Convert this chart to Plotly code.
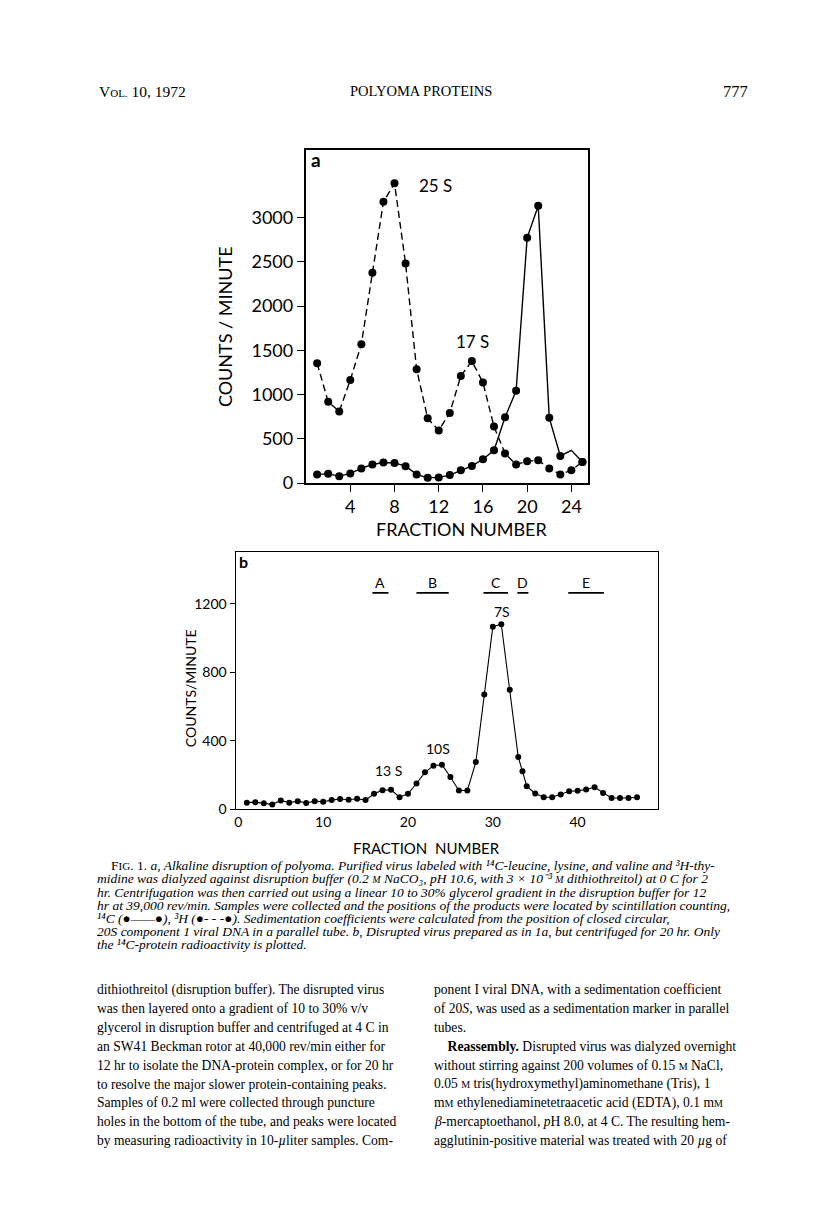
import plotly.graph_objects as go

W, H = 816, 1214

# --- panel a: 14C (solid) and 3H (dashed) ---
frac_a = list(range(1, 26))
h3_counts = [1353, 919, 810, 1166, 1569, 2377, 3180, 3389, 2481, 1286, 732, 594, 793,
             1211, 1379, 1136, 639, 333, 210, 247, 258, 165, 98, 146, 239]
c14_counts = [98, 104, 78, 109, 165, 210, 232, 228, 191, 98, 59, 64, 90,
              146, 194, 269, 370, 743, 1043, 2772, 3135, 737, 306, 370, 239]
a_ticks_x = [4, 8, 12, 16, 20, 24]
a_ticks_y = [0, 500, 1000, 1500, 2000, 2500, 3000]
a_peaks = ["25 S", "17 S"]
a_peak_x = [11.7, 15.1]
a_peak_y = [3360, 1600]

# --- panel b: 14C protein, 20 hr ---
frac_b = list(range(1, 34)) + [33.5] + list(range(34, 48))
b_counts = [39, 42, 35, 29, 52, 39, 48, 37, 48, 44, 54, 60, 56, 62, 54, 91, 112, 114,
            71, 91, 151, 216, 255, 261, 189, 110, 110, 276, 670, 1067, 1081, 699,
            305, 222, 135, 93, 71, 71, 87, 106, 108, 116, 129, 96, 66, 66, 66, 71]
b_ticks_x = [0, 10, 20, 30, 40]
b_ticks_y = [0, 400, 800, 1200]
b_peaks = ["7S", "10S", "13 S"]
b_peak_x = [31.1, 23.5, 17.7]
b_peak_y = [1158, 357, 226]
bands = ["A", "B", "C", "D", "E"]
band_start = [15.8, 21.0, 28.9, 32.9, 38.9]
band_end = [17.7, 24.8, 31.8, 34.2, 43.1]
band_y = 1264

SANS = "Lato"
SERIF = "Liberation Serif"


def px(x, y):
    return x / W, 1 - y / H


fig = go.Figure()

# panel a traces
fig.add_trace(go.Scatter(x=frac_a, y=h3_counts, mode="lines+markers", xaxis="x", yaxis="y",
                         line=dict(color="black", width=1.4, dash="7px,4px"),
                         marker=dict(color="black", size=8)))
fig.add_trace(go.Scatter(x=frac_a, y=c14_counts, mode="lines", xaxis="x", yaxis="y",
                         line=dict(color="black", width=1.4)))
mx = [f for f in frac_a if f != 24]
my = [c for f, c in zip(frac_a, c14_counts) if f != 24]
fig.add_trace(go.Scatter(x=mx, y=my, mode="markers", xaxis="x", yaxis="y",
                         marker=dict(color="black", size=8)))

# panel b traces
fig.add_trace(go.Scatter(x=frac_b, y=b_counts, mode="lines+markers", xaxis="x2", yaxis="y2",
                         line=dict(color="black", width=1.1),
                         marker=dict(color="black", size=6)))
for s, e in zip(band_start, band_end):
    fig.add_trace(go.Scatter(x=[s, e], y=[band_y, band_y], mode="lines", xaxis="x2", yaxis="y2",
                             line=dict(color="black", width=1.6)))

ax_common = dict(showgrid=False, zeroline=False, showline=True, linecolor="black",
                 mirror=True, ticks="outside", tickcolor="black", color="black")

x0, y0 = px(297, 479)
x1, y1 = px(580, 143)
bx0, by0 = px(227, 808)
bx1, by1 = px(650, 549)

fig.update_layout(
    width=W, height=H, margin=dict(l=0, r=0, t=0, b=0),
    paper_bgcolor="white", plot_bgcolor="white", showlegend=False,
    xaxis=dict(domain=[x0, x1], range=[-0.04, 25.53], tickvals=a_ticks_x, ticklen=7,
               linewidth=1.6, tickwidth=1.4, anchor="y",
               tickfont=dict(family=SANS, size=18), **ax_common),
    yaxis=dict(domain=[y0, y1], range=[0, 3767], tickvals=a_ticks_y, ticklen=7,
               linewidth=1.6, tickwidth=1.4, anchor="x",
               tickfont=dict(family=SANS, size=18), **ax_common),
    xaxis2=dict(domain=[bx0, bx1], range=[-0.31, 49.5], tickvals=b_ticks_x, anchor="y2",
                linewidth=1.4, ticklen=0, tickfont=dict(family=SANS, size=14),
                **{k: v for k, v in ax_common.items() if k != "ticks"}),
    yaxis2=dict(domain=[by0, by1], range=[0, 1500], tickvals=b_ticks_y, ticklen=5, anchor="x2",
                linewidth=1.4, tickwidth=1.2, tickfont=dict(family=SANS, size=14), **ax_common),
)

ann = []


def text(x, y, s, size, family=SANS, xanchor="center", angle=0, color="black"):
    ax_, ay_ = px(x, y)
    ann.append(dict(x=ax_, y=ay_, xref="paper", yref="paper", text=s, showarrow=False,
                    xanchor=xanchor, yanchor="middle", textangle=angle,
                    font=dict(family=family, size=size, color=color)))


# panel a labels
text(307, 153, "<b>a</b>", 19, xanchor="center")
text(217, 321, "COUNTS / MINUTE", 18, angle=-90)
text(453, 525, "FRACTION NUMBER", 18)
for t, xv, yv in zip(a_peaks, a_peak_x, a_peak_y):
    ann.append(dict(x=xv, y=yv, xref="x", yref="y", text=t, showarrow=False,
                    font=dict(family=SANS, size=17, color="black")))

# panel b labels
text(235, 558, "<b>b</b>", 16)
text(182, 686, "COUNTS/MINUTE", 14, angle=-90)
text(418, 847, "FRACTION  NUMBER", 15)
for t, xv, yv in zip(b_peaks, b_peak_x, b_peak_y):
    ann.append(dict(x=xv, y=yv, xref="x2", yref="y2", text=t, showarrow=False,
                    font=dict(family=SANS, size=14, color="black")))
for t, s, e in zip(bands, band_start, band_end):
    ann.append(dict(x=(s + e) / 2, y=band_y + 62, xref="x2", yref="y2", text=t, showarrow=False,
                    font=dict(family=SANS, size=14, color="black")))

# page header
sc = "<span style='font-size:11px'>"
text(88, 84, "V" + sc + "OL.</span> 10, 1972", 15.5, family=SERIF, xanchor="left")
text(413, 84, "POLYOMA PROTEINS", 14.5, family=SERIF)
text(742, 84, "777", 16.5, family=SERIF, xanchor="right")

# figure caption
M = "<span style='font-size:10px'>M</span>"
caption = [
    (100, "F" + sc + "IG</span>. 1. <i>a, Alkaline disruption of polyoma. Purified virus labeled with "
          "¹⁴C-leucine, lysine, and valine and ³H-thy-</i>"),
    (86, "<i>midine was dialyzed against disruption buffer (0.2 " + M + " NaCO₃, pH 10.6, with "
         "3 × 10⁻³ " + M + " dithiothreitol) at 0 C for 2</i>"),
    (86, "<i>hr. Centrifugation was then carried out using a linear 10 to 30% glycerol gradient "
         "in the disruption buffer for 12</i>"),
    (86, "<i>hr at 39,000 rev/min. Samples were collected and the positions of the products were "
         "located by scintillation counting,</i>"),
    (86, "<i>¹⁴C (●——●), ³H (●- - -●). Sedimentation coefficients were "
         "calculated from the position of closed circular,</i>"),
    (86, "<i>20S component 1 viral DNA in a parallel tube. b, Disrupted virus prepared as in 1a, "
         "but centrifuged for 20 hr. Only</i>"),
    (86, "<i>the ¹⁴C-protein radioactivity is plotted.</i>"),
]
for i, (x, s) in enumerate(caption):
    text(x, 865 + 13.2 * i, s, 13.5, family=SERIF, xanchor="left")

left_col = [
    "dithiothreitol (disruption buffer). The disrupted virus",
    "was then layered onto a gradient of 10 to 30% v/v",
    "glycerol in disruption buffer and centrifuged at 4 C in",
    "an SW41 Beckman rotor at 40,000 rev/min either for",
    "12 hr to isolate the DNA-protein complex, or for 20 hr",
    "to resolve the major slower protein-containing peaks.",
    "Samples of 0.2 ml were collected through puncture",
    "holes in the bottom of the tube, and peaks were located",
    "by measuring radioactivity in 10-<i>µ</i>liter samples. Com-",
]
right_col = [
    "ponent I viral DNA, with a sedimentation coefficient",
    "of 20<i>S</i>, was used as a sedimentation marker in parallel",
    "tubes.",
    "    <b>Reassembly.</b> Disrupted virus was dialyzed overnight",
    "without stirring against 200 volumes of 0.15 " + M + " NaCl,",
    "0.05 " + M + " tris(hydroxymethyl)aminomethane (Tris), 1",
    "m" + M + " ethylenediaminetetraacetic acid (EDTA), 0.1 m" + M,
    "<i>β</i>-mercaptoethanol, <i>p</i>H 8.0, at 4 C. The resulting hem-",
    "agglutinin-positive material was treated with 20 <i>µ</i>g of",
]
for i, s in enumerate(left_col):
    text(86, 990 + 19 * i, s, 13.6, family=SERIF, xanchor="left")
for i, s in enumerate(right_col):
    text(424, 990 + 19 * i, s, 13.6, family=SERIF, xanchor="left")

fig.update_layout(annotations=ann)
fig.write_html("out.html")
